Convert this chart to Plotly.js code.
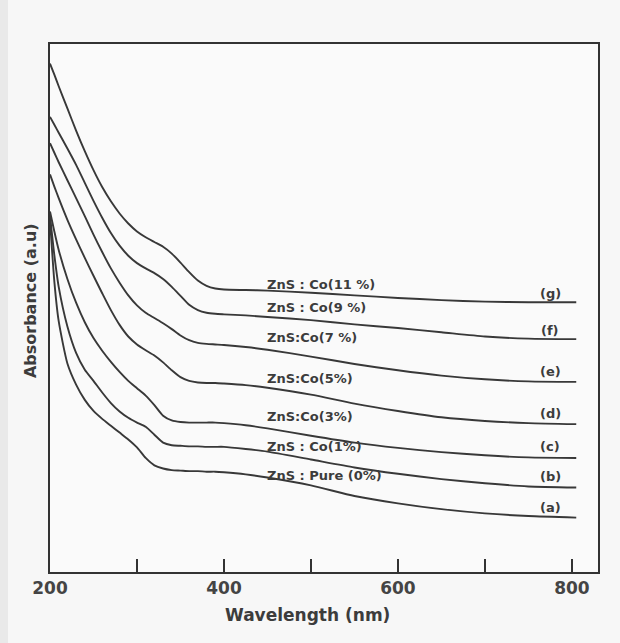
<!DOCTYPE html>
<html>
<head>
<meta charset="utf-8">
<script src="https://cdn.plot.ly/plotly-3.0.1.min.js"></script>
<style>html,body{margin:0;padding:0;background:#f7f7f7;}</style>
</head>
<body>
<div id="chart" style="width:620px;height:643px;"></div>
<script>
// Wavelength grid (nm) and absorbance (a.u., arbitrary scale)
const wavelength = [200, 205, 210, 220, 230, 240, 250, 260, 270, 280, 290, 300, 310, 320, 330, 340, 350, 360, 370, 380, 390, 400, 425, 450, 500, 550, 600, 650, 700, 750, 805];
const co11 = [96.3, 94.2, 92.0, 87.8, 83.6, 79.7, 76.1, 72.9, 70.2, 67.9, 66.0, 64.5, 63.4, 62.5, 61.6, 60.3, 58.6, 56.8, 55.2, 54.2, 53.7, 53.5, 53.4, 53.3, 52.9, 52.4, 51.9, 51.5, 51.2, 51.1, 51.1];
const co9  = [86.2, 84.7, 83.2, 80.2, 77.1, 73.7, 70.3, 67.1, 64.2, 61.8, 59.9, 58.5, 57.5, 56.6, 55.5, 54.0, 52.3, 50.6, 49.6, 49.1, 48.9, 48.8, 48.6, 48.3, 47.7, 46.9, 46.2, 45.4, 44.6, 44.2, 44.1];
const co7  = [81.2, 79.4, 77.6, 74.2, 70.8, 67.4, 63.9, 60.6, 57.5, 54.8, 52.4, 50.5, 49.1, 48.1, 47.1, 46.0, 44.8, 43.9, 43.4, 43.2, 43.1, 43.0, 42.6, 42.1, 40.8, 39.4, 38.2, 37.2, 36.5, 36.1, 36.0];
const co5  = [75.3, 73.0, 70.8, 66.7, 63.0, 59.5, 56.1, 52.8, 49.6, 46.8, 44.6, 43.1, 42.0, 41.0, 39.7, 38.2, 36.9, 36.2, 35.9, 35.8, 35.8, 35.7, 35.4, 34.9, 33.6, 31.9, 30.5, 29.3, 28.6, 28.2, 28.0];
const co3  = [68.3, 64.5, 61.0, 55.5, 51.0, 47.3, 44.3, 41.9, 39.8, 37.9, 36.2, 34.8, 33.4, 31.6, 29.6, 28.7, 28.4, 28.3, 28.3, 28.3, 28.3, 28.2, 27.8, 27.2, 25.8, 24.5, 23.5, 22.7, 22.1, 21.7, 21.6];
const co1  = [67.5, 60.0, 54.0, 46.5, 41.5, 38.3, 36.2, 34.0, 32.0, 30.4, 29.2, 28.3, 27.5, 26.0, 24.5, 24.0, 23.9, 23.8, 23.8, 23.7, 23.7, 23.7, 23.3, 22.8, 21.3, 19.8, 18.6, 17.6, 16.8, 16.2, 16.0];
const pure = [66.7, 55.0, 47.5, 39.5, 35.5, 32.6, 30.5, 29.0, 27.7, 26.4, 25.1, 23.6, 21.6, 20.2, 19.6, 19.3, 19.2, 19.1, 19.1, 19.0, 19.0, 18.9, 18.5, 17.9, 16.4, 14.4, 13.0, 11.9, 11.1, 10.6, 10.3];

const seriesNames = ["ZnS : Co(11 %)", "ZnS : Co(9 %)", "ZnS:Co(7 %)", "ZnS:Co(5%)", "ZnS:Co(3%)", "ZnS : Co(1%)", "ZnS : Pure (0%)"];
const seriesTags = ["(g)", "(f)", "(e)", "(d)", "(c)", "(b)", "(a)"];
const tickVals = [200, 300, 400, 500, 600, 700, 800];
const tickText = ["200", "", "400", "", "600", "", "800"];

const series = [co11, co9, co7, co5, co3, co1, pure];

const lineColor = "#383838";
const traces = series.map((y, i) => ({
  x: wavelength, y: y, type: "scatter", mode: "lines", name: seriesNames[i],
  line: {color: lineColor, width: 1.9, shape: "spline", smoothing: 0.6},
  hoverinfo: "x+y+name"
}));

const fam = "DejaVu Sans, Verdana, sans-serif";
const textFont = {family: fam, size: 13, color: "#3c3c3c", weight: "bold"};
// label anchor positions (layout only)
const nameY = [54.5, 50.1, 44.4, 36.6, 29.5, 23.7, 18.2];
const tagY = [52.8, 45.8, 37.9, 30.1, 23.7, 18.0, 12.3];
const annotations = [];
seriesNames.forEach((t, i) => {
  annotations.push({x: 447, y: nameY[i], xref: "x", yref: "y", text: t, showarrow: false,
    xanchor: "left", yanchor: "middle", font: textFont});
  annotations.push({x: 775, y: tagY[i], xref: "x", yref: "y", text: seriesTags[i], showarrow: false,
    xanchor: "center", yanchor: "middle", font: textFont});
});
annotations.push({x: -0.0365, y: 0.515, xref: "paper", yref: "paper", text: "Absorbance (a.u)",
  textangle: -90, showarrow: false, xanchor: "center", yanchor: "middle",
  font: {family: fam, size: 16, color: "#3c3c3c", weight: "bold"}});
annotations.push({x: 0.469, y: -0.0814, xref: "paper", yref: "paper", text: "Wavelength (nm)",
  showarrow: false, xanchor: "center", yanchor: "middle",
  font: {family: fam, size: 17, color: "#3c3c3c", weight: "bold"}});

const layout = {
  width: 620, height: 643,
  margin: {l: 50, r: 22, t: 44, b: 71, pad: 0},
  paper_bgcolor: "#f7f7f7", plot_bgcolor: "#fafafa",
  showlegend: false,
  xaxis: {
    range: [200, 830], showgrid: false, zeroline: false,
    showline: true, mirror: true, linecolor: "#333", linewidth: 2,
    ticks: "inside", ticklen: 13, tickwidth: 1.6, tickcolor: "#333",
    tickmode: "array", tickvals: tickVals, ticktext: tickText,
    tickfont: {family: fam, size: 17, color: "#444", weight: "bold"}
  },
  yaxis: {
    range: [0, 100], showgrid: false, zeroline: false,
    showline: true, mirror: true, linecolor: "#333", linewidth: 2,
    showticklabels: false, ticks: ""
  },
  shapes: [{type: "rect", xref: "paper", yref: "paper", x0: -50/548, x1: -42/548, y0: -71/528, y1: 1 + 44/528,
    fillcolor: "#e9e9e9", line: {width: 0}, layer: "below"}],
  annotations: annotations
};

Plotly.newPlot("chart", traces, layout, {displayModeBar: false, staticPlot: true});
</script>
</body>
</html>
